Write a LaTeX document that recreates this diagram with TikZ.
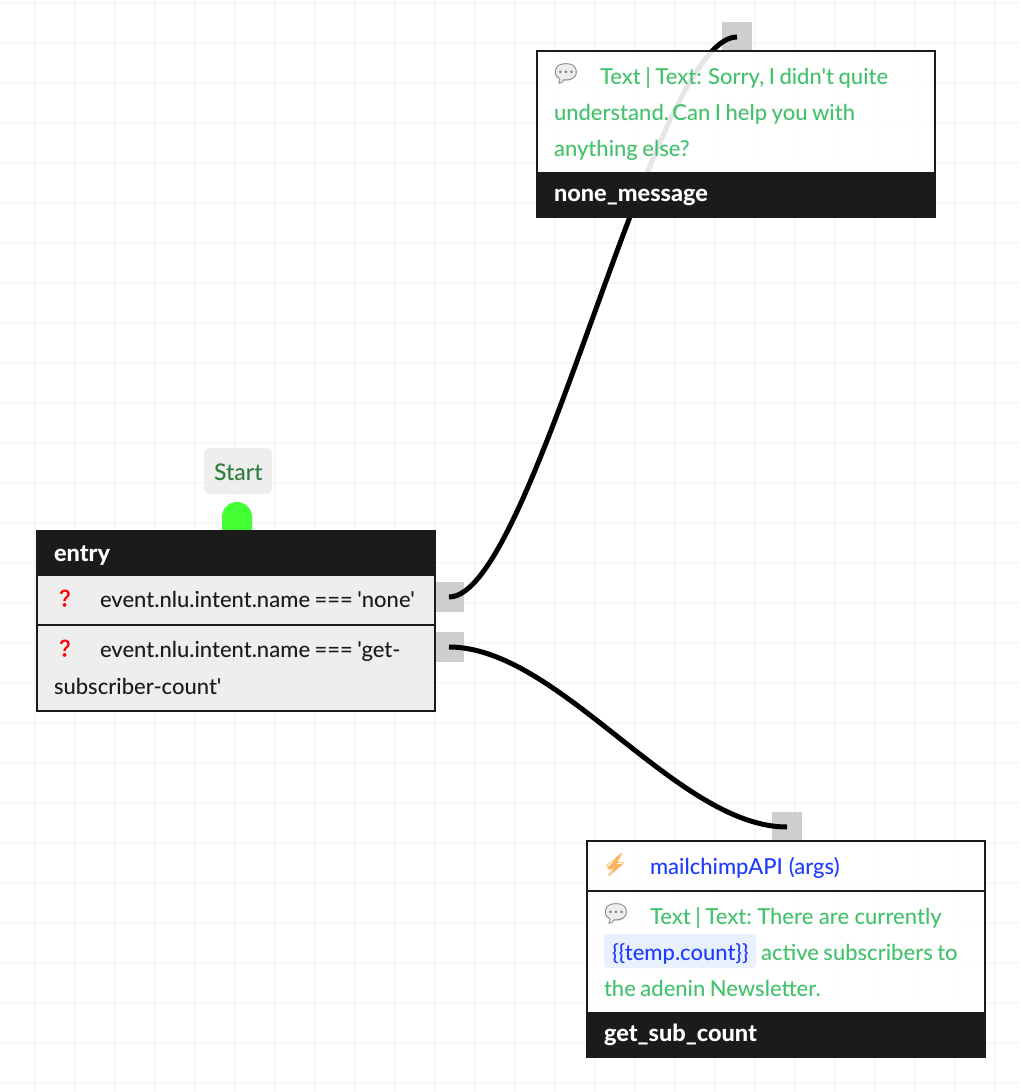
\documentclass[tikz,border=0pt]{standalone}
\usepackage{fontspec}
\newfontfamily\lato[WordSpace=0.8]{Lato Medium}
\newfontfamily\latob{Lato Heavy}
\newfontfamily\emojif{Noto Emoji}
\definecolor{gridc}{HTML}{F6F6F6}
\definecolor{darkc}{HTML}{1B1B1B}
\definecolor{greent}{HTML}{42C26B}
\definecolor{bluet}{HTML}{1E3CFF}
\definecolor{rowc}{HTML}{EEEEEE}
\definecolor{handlec}{HTML}{CCCCCC}
\definecolor{startg}{HTML}{2E7D3C}
\definecolor{pillc}{HTML}{E8F0FE}
\definecolor{dotg}{HTML}{44FF33}
\definecolor{boltc}{HTML}{F9B35E}
\tikzset{
  txt/.style={anchor=base west,inner sep=0pt,outer sep=0pt,font=\lato\fontsize{22}{26}\selectfont},
  greentxt/.style={txt,text=greent},
  bluetxt/.style={txt,text=bluet},
  darktxt/.style={txt,text=darkc},
  starttext/.style={anchor=base west,inner sep=0pt,outer sep=0pt,text=startg,font=\lato\fontsize{23}{26}\selectfont},
  headtxt/.style={anchor=base west,inner sep=0pt,outer sep=0pt,text=white,font=\latob\fontsize{23.5}{26}\selectfont},
  band/.style={anchor=north west,fill=darkc,draw=none,inner sep=0pt,outer sep=0pt,minimum width=400pt},
  bodybox/.style={anchor=north west,draw=darkc,line width=2pt,inner sep=0pt,minimum width=398pt,fill=white,fill opacity=.9},
  rowbox/.style={anchor=north west,draw=darkc,line width=2pt,inner sep=0pt,minimum width=398pt,fill=rowc},
  handle/.style={fill=handlec,fill opacity=.95,draw=none,inner sep=0pt,outer sep=0pt,minimum width=30pt,minimum height=30pt},
  wire/.style={draw=black,line width=5pt},
  balloon/.style={anchor=center,inner sep=0pt,text=black!50,font=\emojif\fontsize{25}{26}\selectfont},
  bolt/.style={anchor=center,inner sep=0pt,text=boltc,font=\emojif\fontsize{22}{26}\selectfont},
  quest/.style={anchor=center,inner sep=0pt,text=red,font=\emojif\fontsize{17}{26}\selectfont},
}
\begin{document}
\begin{tikzpicture}[x=1pt,y=-1pt]
\useasboundingbox (0,0) rectangle (1020,1092);
\fill[white] (0,0) rectangle (1020,1092);
% grid
\foreach \gx in {35,75,...,1015} \draw[gridc,line width=2pt] (\gx,0) -- (\gx,1092);
\foreach \gy in {3,43,...,1083} \draw[gridc,line width=2pt] (0,\gy) -- (1020,\gy);
% handles
\node[handle] (hnone) at (449,597) {};
\node[handle] (hsub) at (449,647) {};
\node[handle] (hmsg) at (737,37) {};
\node[handle] (hcount) at (787,827) {};
% connectors
\draw[wire] (hnone.center) .. controls +(85,0) and +(-85,0) .. (hmsg.center);
\draw[wire] (hsub.center) .. controls +(110,0) and +(-110,0) .. (hcount.center);
% start
\node[fill=rowc,rounded corners=6pt,minimum width=68pt,minimum height=46pt,inner sep=0pt] (startbox) at (238,471) {};
\node[starttext] (starttxt) at (214,480) {Start};
\fill[dotg] (222,532) -- (222,517) arc[start angle=180,end angle=360,radius=15] -- (252,532) -- cycle;
% none_message
\node[bodybox,minimum height=122pt] (msgbody) at (536,50) {};
\node[band,minimum height=46pt] (msgband) at (536,172) {};
\fill[black!7] (566,73) ellipse[x radius=10.5,y radius=8.5];
\node[balloon] (msgicon) at (566,74) {💬};
\node[greentxt] (msg1) at (600,84) {Text | Text: Sorry, I didn't quite};
\node[greentxt] (msg2) at (554,120) {understand.\kern-1pt\ Can I help you with};
\node[greentxt] (msg3) at (554,156) {anything else?};
\node[headtxt] (msgname) at (554,201.5) {none\_message};
% entry
\node[rowbox,minimum height=50pt] (row1) at (36,574) {};
\node[rowbox,minimum height=86pt] (row2) at (36,624) {};
\node[band,minimum height=46pt] (entryband) at (36,530) {};
\node[headtxt] (entryname) at (54,561.5) {entry};
\node[quest] (q1) at (65,599) {❓};
\node[quest] (q2) at (65,649) {❓};
\node[darktxt] (r1) at (100,607) {event.nlu.intent.name === 'none'};
\node[darktxt] (r2a) at (100,657.5) {event.nlu.intent.name === 'get-};
\node[darktxt] (r2b) at (54,694) {subscriber-count'};
% get_sub_count
\node[bodybox,minimum height=50pt] (apibody) at (586,840) {};
\node[bodybox,minimum height=122pt] (subbody) at (586,890) {};
\node[band,minimum height=46pt] (subband) at (586,1012) {};
\fill[boltc] (620.7,853) -- (607,869) -- (614,869) -- (609,876) -- (623,864) -- (617,864) -- cycle;
\node[bolt] (apiicon) at (615,865) {⚡};
\node[bluetxt] (api) at (650,874) {mailchimpAPI\kern1.5pt\ (args)};
\fill[black!7] (616,913) ellipse[x radius=10.5,y radius=8.5];
\node[balloon] (subicon) at (616,914) {💬};
\node[greentxt] (sub1) at (650,924) {Text | Text:\kern1pt\ There\kern1pt\ are\kern1pt\ currently};
\node[fill=pillc,rounded corners=4pt,minimum width=152pt,minimum height=34pt,inner sep=0pt] (pill) at (680,951) {};
\node[bluetxt] (pilltxt) at (612,960) {\{\{temp.count\}\}};
\node[greentxt] (sub2) at (761,960) {active subscribers to};
\node[greentxt] (sub3) at (604,996) {the adenin Newsletter.};
\node[headtxt] (subname) at (604,1041.5) {get\_sub\_count};
\end{tikzpicture}
\end{document}
